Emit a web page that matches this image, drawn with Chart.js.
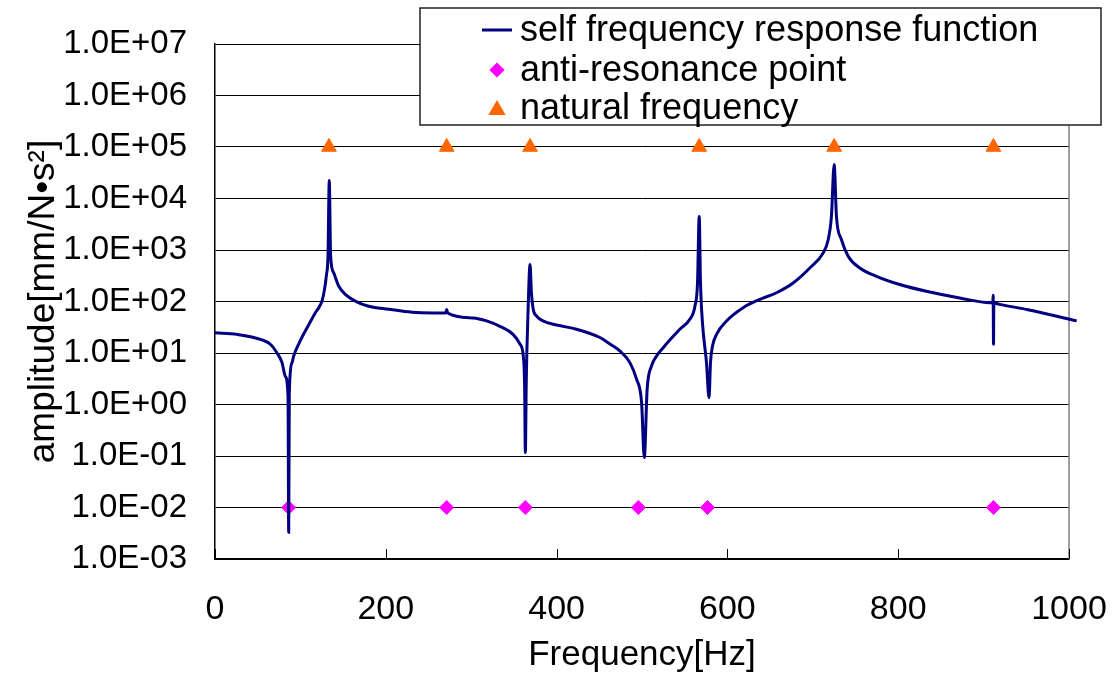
<!DOCTYPE html>
<html>
<head>
<meta charset="utf-8">
<script src="https://cdn.jsdelivr.net/npm/chart.js@4.4.1/dist/chart.umd.min.js"></script>
<style>
  html, body { margin: 0; padding: 0; background: #fff; }
  #wrap { width: 1112px; height: 679px; }
</style>
</head>
<body>
<div id="wrap"><canvas id="frfChart" width="1112" height="679"></canvas></div>
<script>
// frequency response curve
const freqHz = [0, 25.8, 55, 64.8, 72.6, 78.5, 82.4, 85.5, 86.3, 87, 90.2, 92.1, 98.7, 109.6, 117.4, 122, 125.5, 128.2, 130.5, 132.3, 133.8, 135.4,
  138.9, 144.8, 152.6, 164.2, 179.9, 203.3, 230.6, 255, 270, 271.3, 272.5, 302.4, 318, 333.6, 349, 357, 361, 362.6, 363.4, 364.5,
  366.5, 368.9, 370.5, 372.7, 376.6, 384, 400, 423.4, 450.7, 462.4, 474, 485.8, 493.6, 499.5, 502.7, 506, 511.2, 517, 524.8, 532.8,
  544.3, 556, 562, 565, 567, 568.5, 570.8, 575.5, 578.5, 580.2, 582.5, 587.3, 599, 618.4, 638, 657.5, 677, 696.5, 712, 718,
  721.8, 725, 727.7, 733.6, 741.4, 755, 774.5, 801.8, 833, 872, 907.5, 910.8, 911.2, 911.6, 912, 918.9, 950.5, 1009];
const amplitude = [24.7, 23, 18, 14.8, 10, 6.5, 3.5, 1.45, 0.0033, 1.65, 6.5, 8.7, 15.8, 35, 60, 78, 105, 170, 330, 760, 22400, 760,
  363, 200, 138, 102, 81, 71, 62, 60, 60, 70, 60, 48, 42, 33, 23, 15, 8.7, 2, 0.117, 3,
  60, 525, 150, 70, 52, 42, 35, 29, 20, 15, 11, 6.5, 3.1, 1.1, 0.093, 1.95, 5.6, 8.7, 12.6, 18,
  29, 45, 81, 229, 4470, 229, 39, 6.5, 1.35, 6.5, 13.5, 23, 42, 76, 110, 148, 229, 447, 870, 1580,
  4470, 45700, 4470, 1580, 760, 447, 309, 214, 158, 117, 95, 95, 132, 14.8, 94, 88, 70, 42];

const antiResFreq = [86.3, 271.3, 363.4, 495.7, 576.6, 911.5];
const antiResLevel = 0.01;
const naturalFreq = [133.5, 271.3, 368.9, 567, 725, 911.5];
const naturalLevel = 100000;

const yTickValues = [1e-3, 1e-2, 1e-1, 1e0, 1e1, 1e2, 1e3, 1e4, 1e5, 1e6, 1e7];
const xTickStep = 200;

const FONT = "'Liberation Sans', Arial, sans-serif";

function sciLabel(v) {
  const e = Math.round(Math.log10(v));
  return '1.0E' + (e < 0 ? '-' : '+') + String(Math.abs(e)).padStart(2, '0');
}

// legend drawn inside the plot, top right, with a white box
const boxLegend = {
  id: 'boxLegend',
  afterDraw(chart) {
    const c = chart.ctx;
    const x0 = 420, y0 = 8, x1 = 1101, y1 = 125;
    c.save();
    c.fillStyle = '#fff';
    c.fillRect(x0, y0, x1 - x0, y1 - y0);
    c.strokeStyle = '#222';
    c.lineWidth = 1.5;
    c.strokeRect(x0, y0, x1 - x0, y1 - y0);
    const rows = [30, 70, 108];
    const mx = 497;
    chart.data.datasets.forEach((ds, i) => {
      const y = rows[i];
      if (ds.showLine) {
        c.strokeStyle = ds.borderColor;
        c.lineWidth = 3;
        c.beginPath(); c.moveTo(482, y); c.lineTo(512, y); c.stroke();
      } else {
        c.fillStyle = ds.backgroundColor;
        c.strokeStyle = ds.backgroundColor;
        Chart.helpers.drawPoint(c, { pointStyle: ds.pointStyle, radius: ds.pointRadius - 1.5, borderWidth: 1 }, mx, y + (ds.pointStyle === 'triangle' ? 2 : 0));
      }
      c.fillStyle = '#000';
      c.font = '36px ' + FONT;
      c.textAlign = 'left';
      c.textBaseline = 'middle';
      c.fillText(ds.label, 520, y + 1);
    });
    c.restore();
  }
};

// plot frame bits: grey right edge, inward ticks on the x axis
const frame = {
  id: 'frame',
  beforeDatasetsDraw(chart) {
    const { ctx: c, chartArea: a, scales } = chart;
    c.save();
    c.strokeStyle = '#808080';
    c.lineWidth = 1.5;
    c.beginPath(); c.moveTo(a.right, a.top); c.lineTo(a.right, a.bottom); c.stroke();
    c.strokeStyle = '#000';
    c.lineWidth = 1;
    scales.x.ticks.forEach(t => {
      const px = Math.round(scales.x.getPixelForValue(t.value)) + 0.5;
      c.beginPath(); c.moveTo(px, a.bottom); c.lineTo(px, a.bottom - 10); c.stroke();
    });
    c.restore();
  }
};

new Chart(document.getElementById('frfChart'), {
  type: 'scatter',
  data: {
    datasets: [
      {
        label: 'self frequency response function',
        data: freqHz.map((f, i) => ({ x: f, y: amplitude[i] })),
        showLine: true,
        borderColor: '#000080',
        backgroundColor: '#000080',
        borderWidth: 3,
        pointRadius: 0,
        cubicInterpolationMode: 'monotone',
        clip: { left: 0, top: 0, right: 12, bottom: 0 }
      },
      {
        label: 'anti-resonance point',
        data: antiResFreq.map(f => ({ x: f, y: antiResLevel })),
        showLine: false,
        pointStyle: 'rectRot',
        pointRadius: 7,
        borderWidth: 1,
        borderColor: '#ff00ff',
        backgroundColor: '#ff00ff'
      },
      {
        label: 'natural frequency',
        data: naturalFreq.map(f => ({ x: f, y: naturalLevel })),
        showLine: false,
        pointStyle: 'triangle',
        pointRadius: 8.5,
        borderWidth: 1,
        borderColor: '#ff6600',
        backgroundColor: '#ff6600'
      }
    ]
  },
  options: {
    responsive: false,
    animation: false,
    layout: { padding: { top: 44, right: 43, left: 0, bottom: 0 } },
    plugins: {
      legend: { display: false },
      tooltip: { enabled: false }
    },
    scales: {
      x: {
        type: 'linear',
        min: 0,
        max: 1000,
        ticks: { stepSize: xTickStep, color: '#000', padding: 30, callback: v => String(v), font: { family: FONT, size: 34 } },
        grid: { display: false, drawTicks: false },
        border: { display: true, color: '#000', width: 1.5 },
        title: { display: true, text: 'Frequency[Hz]', color: '#000', padding: { top: 0, bottom: 3 }, font: { family: FONT, size: 35 } },
        afterFit: s => { s.height = 120; s.paddingLeft = 0; s.paddingRight = 0; }
      },
      y: {
        type: 'logarithmic',
        min: 1e-3,
        max: 1e7,
        afterBuildTicks: s => { s.ticks = yTickValues.map(v => ({ value: v })); },
        ticks: { color: '#000', padding: 28, autoSkip: false, callback: v => sciLabel(v), font: { family: FONT, size: 33 } },
        grid: { color: '#000', lineWidth: 1, drawTicks: false },
        border: { display: true, color: '#000', width: 1.5 },
        title: { display: true, text: 'amplitude[mm/N•s²]', color: '#000', padding: { top: 22, bottom: 0 }, font: { family: FONT, size: 37 } },
        afterFit: s => { s.width = 215; s.paddingTop = 0; s.paddingBottom = 0; }
      }
    }
  },
  plugins: [frame, boxLegend]
});
</script>
</body>
</html>
